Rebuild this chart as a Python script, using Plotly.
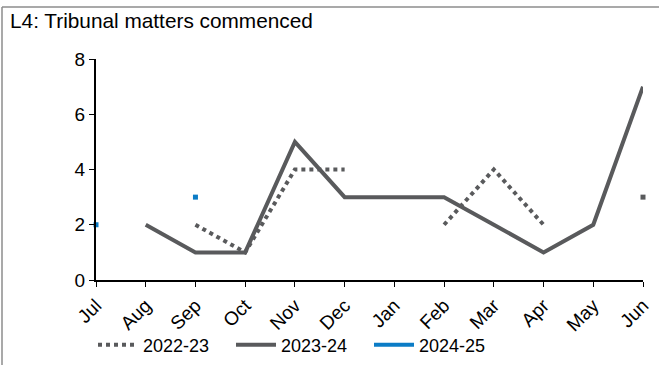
import plotly.graph_objects as go

months = ["Jul", "Aug", "Sep", "Oct", "Nov", "Dec", "Jan", "Feb", "Mar", "Apr", "May", "Jun"]
fy_2022_23 = [None, None, 2, 1, 4, 4, None, 2, 4, 2, None, 3]
fy_2023_24 = [None, 2, 1, 1, 5, 3, 3, 3, 2, 1, 2, 7]
fy_2024_25 = [2, None, 3, None, None, None, None, None, None, None, None, None]
y_ticks = [0, 2, 4, 6, 8]
title_text = "L4: Tribunal matters commenced"

GRAY = "#595a5c"
BLUE = "#0b7cc6"
FONT = "Liberation Sans, Arial, sans-serif"

W, H = 659, 365
L, R, T, B = 96, 16, 59, 85
PW, PH = W - L - R, H - T - B


def px_x(px):
    return (px - L) / PW


def px_y(py):
    return (H - B - py) / PH


def isolated(vals):
    out = []
    for i, v in enumerate(vals):
        prev_ = vals[i - 1] if i > 0 else None
        next_ = vals[i + 1] if i < len(vals) - 1 else None
        out.append(v if (v is not None and prev_ is None and next_ is None) else None)
    return out


fig = go.Figure()

series = [
    ("2022-23", fy_2022_23, GRAY, "dot"),
    ("2023-24", fy_2023_24, GRAY, "solid"),
    ("2024-25", fy_2024_25, BLUE, "solid"),
]

for name, vals, color, dash in series:
    fig.add_trace(go.Scatter(
        x=months, y=vals, name=name, mode="lines",
        line=dict(color=color, width=4, dash=dash),
        connectgaps=False, cliponaxis=False,
    ))

for name, vals, color, dash in series:
    fig.add_trace(go.Scatter(
        x=months, y=isolated(vals), mode="markers", showlegend=False,
        marker=dict(symbol="square", size=5, color=color),
        cliponaxis=False, hoverinfo="skip",
    ))

fig.update_layout(
    width=W, height=H,
    margin=dict(l=L, r=R, t=T, b=B, autoexpand=False),
    paper_bgcolor="white", plot_bgcolor="white",
    font=dict(family=FONT, size=18, color="black"),
    showlegend=True,
    legend=dict(orientation="h", x=px_x(93), xanchor="left",
                y=px_y(345), yanchor="middle",
                font=dict(family=FONT, size=18, color="black"),
                entrywidth=83, itemwidth=40,
                bgcolor="rgba(0,0,0,0)"),
    xaxis=dict(type="category", range=[0, len(months) - 1],
               showline=True, linecolor="black", linewidth=2,
               ticks="outside", ticklen=5, tickcolor="black", tickwidth=1,
               tickangle=-45, showgrid=False, zeroline=False, automargin=False,
               tickfont=dict(family=FONT, size=19, color="black")),
    yaxis=dict(range=[0, 8], tickvals=y_ticks,
               showline=True, linecolor="black", linewidth=2,
               ticks="outside", ticklen=5, tickcolor="black", tickwidth=1,
               showgrid=False, zeroline=False, automargin=False,
               tickfont=dict(family=FONT, size=19, color="black")),
    annotations=[
        dict(text=title_text, xref="paper", yref="paper",
             x=px_x(8), y=px_y(21), xanchor="left", yanchor="middle",
             showarrow=False, font=dict(family=FONT, size=20.8, color="black")),
    ],
    shapes=[
        dict(type="line", xref="paper", yref="paper",
             x0=px_x(2), x1=px_x(W + 5), y0=px_y(7), y1=px_y(7),
             line=dict(color="#8c8c8c", width=1.5)),
        dict(type="line", xref="paper", yref="paper",
             x0=px_x(2), x1=px_x(2), y0=px_y(7), y1=px_y(H + 5),
             line=dict(color="#8c8c8c", width=1.5)),
    ],
)

fig.write_html("out.html",
               config={"displayModeBar": False},
               post_script="document.body.style.margin='0';document.body.style.overflow='hidden';")
